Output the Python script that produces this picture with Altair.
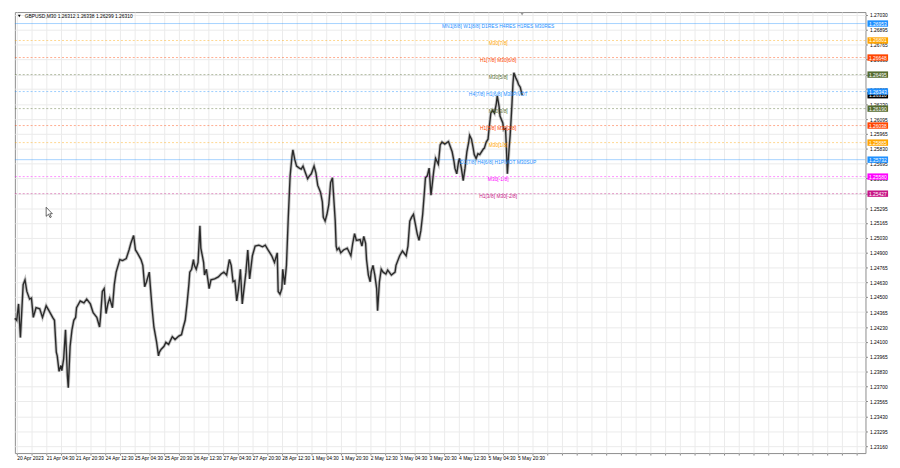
import altair as alt
import pandas as pd

W, H = 866, 449
FONT = "Liberation Sans"

# ---- price path (M30 bar index, price) ----
bars = [0, 2, 4, 6, 9, 11, 13, 16, 18, 20,
        23, 27, 30, 34, 37, 41, 43, 45, 46, 48,
        50, 51, 53, 55, 57, 58, 60, 62, 64, 66,
        67, 71, 75, 78, 82, 85, 89, 92, 93, 95,
        97, 99, 101, 103, 106, 108, 110, 114, 117, 121,
        124, 126, 129, 131, 133, 137, 139, 141, 143, 146,
        147, 149, 151, 154, 156, 157, 159, 162, 164, 167,
        171, 174, 178, 181, 183, 185, 187, 189, 190, 192,
        194, 195, 197, 199, 201, 202, 203, 205, 206, 208,
        210, 211, 213, 217, 221, 224, 227, 230, 233, 235,
        237, 239, 241, 243, 245, 247, 251, 253, 255, 258,
        261, 265, 269, 272, 275, 279, 282, 285, 286, 288,
        290, 291, 293, 295, 297, 299, 301, 302, 304, 306,
        309, 311, 313, 316, 318, 320, 322, 325, 327, 329,
        332, 334, 335, 337, 339, 341, 343, 345, 346, 348,
        349, 350, 352, 354, 357, 361, 365, 367, 369, 371,
        375, 377, 379, 381, 382, 384, 386, 387, 389, 391,
        393, 394, 396, 398, 400, 403, 405, 409, 413, 414,
        418, 421, 425, 427, 429, 431, 433, 435, 437, 439,
        441, 443, 445, 446, 448, 450, 452, 453, 455, 457,
        460, 462, 464, 467, 471, 475, 477, 478, 480, 482,
        483, 485, 487, 489, 491, 493, 494, 496, 498, 499,
        501, 503, 505, 509, 510, 512, 514, 515, 517, 519,
        521, 523, 524, 526, 527, 530, 531, 533, 534, 535,
        537, 538, 539, 540, 541, 542, 544, 546, 547, 549,
        551]

closes = [1.24309, 1.24291, 1.24438, 1.24136, 1.24611, 1.24654, 1.24550, 1.24481, 1.24490, 1.24317,
          1.24404, 1.24395, 1.24317, 1.24421, 1.24378, 1.24317, 1.24291, 1.24006, 1.23972, 1.23833,
          1.23885, 1.23840, 1.23946, 1.24205, 1.23799, 1.23686, 1.24058, 1.24205, 1.24291, 1.24317,
          1.24404, 1.24464, 1.24447, 1.24481, 1.24438, 1.24360, 1.24317, 1.24231, 1.24317, 1.24550,
          1.24576, 1.24352, 1.24438, 1.24490, 1.24404, 1.24611, 1.24723, 1.24836, 1.24827, 1.24845,
          1.24922, 1.24982, 1.25052, 1.24922, 1.24896, 1.24836, 1.24784, 1.24592, 1.24637, 1.24723,
          1.24611, 1.24404, 1.24231, 1.24093, 1.23972, 1.24006, 1.24032, 1.24058, 1.24093, 1.24075,
          1.24144, 1.24118, 1.24150, 1.24162, 1.24231, 1.24291, 1.24438, 1.24611, 1.24723, 1.24749,
          1.24836, 1.24784, 1.24749, 1.24810, 1.25138, 1.24939, 1.24896, 1.24810, 1.24697, 1.24749,
          1.24637, 1.24576, 1.24654, 1.24663, 1.24680, 1.24706, 1.24723, 1.24697, 1.24836, 1.24784,
          1.24637, 1.24645, 1.24464, 1.24576, 1.24749, 1.24438, 1.24723, 1.24922, 1.24663, 1.24870,
          1.24957, 1.24965, 1.24950, 1.24965, 1.24922, 1.24870, 1.24810, 1.24896, 1.24550, 1.24525,
          1.24576, 1.24749, 1.24611, 1.24784, 1.25216, 1.25587, 1.25760, 1.25820, 1.25734, 1.25674,
          1.25656, 1.25648, 1.25674, 1.25605, 1.25561, 1.25587, 1.25605, 1.25674, 1.25613, 1.25501,
          1.25440, 1.25354, 1.25216, 1.25181, 1.25242, 1.25328, 1.25527, 1.25570, 1.25440, 1.25181,
          1.24957, 1.24922, 1.24939, 1.24896, 1.24922, 1.24939, 1.24870, 1.24982, 1.25069, 1.25008,
          1.25015, 1.24957, 1.25043, 1.24982, 1.24836, 1.24697, 1.24637, 1.24723, 1.24784, 1.24697,
          1.24576, 1.24378, 1.24637, 1.24749, 1.24723, 1.24706, 1.24741, 1.24697, 1.24723, 1.24784,
          1.24870, 1.24913, 1.24870, 1.24957, 1.25181, 1.25216, 1.25242, 1.25155, 1.25069, 1.25008,
          1.25095, 1.25242, 1.25458, 1.25570, 1.25587, 1.25656, 1.25414, 1.25484, 1.25631, 1.25743,
          1.25691, 1.25864, 1.25890, 1.25872, 1.25895, 1.25803, 1.25717, 1.25656, 1.25605, 1.25717,
          1.25743, 1.25656, 1.25544, 1.25656, 1.25803, 1.25890, 1.25950, 1.25916, 1.25829, 1.25777,
          1.25743, 1.25786, 1.25777, 1.25829, 1.25835, 1.25890, 1.25916, 1.26002, 1.26149, 1.26175,
          1.26149, 1.26235, 1.26304, 1.26209, 1.26123, 1.26062, 1.26002, 1.26010, 1.25829, 1.25605,
          1.25846, 1.25950, 1.26088, 1.26235, 1.26408, 1.26512, 1.26468, 1.26434, 1.26408, 1.26382,
          1.26310]

# ---- axes ----
y_ticks = [1.27030, 1.26895, 1.26765, 1.26630, 1.26495, 1.26365, 1.26230, 1.26095, 1.25965, 1.25830,
           1.25695, 1.25565, 1.25430, 1.25295, 1.25165, 1.25030, 1.24900, 1.24765, 1.24630, 1.24500,
           1.24365, 1.24230, 1.24100, 1.23965, 1.23830, 1.23700, 1.23565, 1.23430, 1.23295, 1.23160]

date_labels = ["20 Apr 2023", "21 Apr 04:30", "21 Apr 20:30", "24 Apr 12:30", "25 Apr 04:30",
               "25 Apr 20:30", "26 Apr 12:30", "27 Apr 04:30", "27 Apr 20:30", "28 Apr 12:30",
               "1 May 04:30", "1 May 20:30", "2 May 12:30", "3 May 04:30", "3 May 20:30",
               "4 May 12:30", "5 May 04:30", "5 May 20:30"]

# ---- Murrey math levels ----
level_prices = [1.26953, 1.26801, 1.26648, 1.26495, 1.26343, 1.26190, 1.26038, 1.25885, 1.25732, 1.25580, 1.25427]
level_texts = ["MN1[8/8] W1[8/8] D1RES H4RES H1RES M30RES", "M30[7/8]", "H1[7/8] M30[6/8]", "M30[5/8]",
               "H4[7/8] H1[6/8] M30PIVOT", "M30[3/8]", "H1[5/8] M30[2/8]", "M30[1/8]",
               "D1[7/8] H4[6/8] H1PIVOT M30SUP", "M30[-1/8]", "H1[3/8] M30[-2/8]"]
level_colors = ["#1E90FF", "#FFA500", "#FF4500", "#556B2F", "#1E90FF", "#556B2F", "#FF4500", "#FFA500",
                "#1E90FF", "#FF00FF", "#C71585"]
level_solid = [True, False, False, False, False, False, False, False, True, False, False]

bid_price = 1.26310
last_bar = 551
header = "GBPUSD,M30  1.26312 1.26338 1.26299 1.26310"

n = min(len(bars), len(closes))
price_df = pd.DataFrame({"bar": bars[:n], "price": closes[:n]})
lev_df = pd.DataFrame({"price": level_prices, "text": level_texts, "color": level_colors,
                       "solid": level_solid, "label": [f"{p:.5f}" for p in level_prices]})
bid_df = pd.DataFrame({"price": [bid_price], "color": ["#000000"], "label": [f"{bid_price:.5f}"]})

x_scale = alt.Scale(domain=[0, 924], nice=False, zero=False)
y_scale = alt.Scale(domain=[1.2310, 1.27056], nice=False, zero=False)

label_js = "[" + ",".join(f"'{d}'" for d in date_labels) + "]"
x_axis = alt.Axis(values=list(range(2, 924, 16)), tickCount=200,
                  labelExpr=f"((datum.value - 2) % 32 == 0 && datum.value <= 546) ? {label_js}[(datum.value - 2) / 32] : ''",
                  labelAlign="left", labelFontSize=5, labelFont=FONT, labelColor="#000000",
                  tickSize=2, tickColor="#888888", labelPadding=1,
                  grid=True, gridColor="#ebebeb", domain=False, title=None,
                  labelOverlap=False, labelFlush=False, labelBound=False)
y_axis = alt.Axis(orient="right", values=y_ticks, tickCount=200, format=".5f", labelFontSize=5, labelFont=FONT,
                  labelColor="#000000", tickSize=2, tickColor="#888888", labelPadding=2,
                  grid=True, gridColor="#ebebeb", domain=False, title=None,
                  labelOverlap=False, labelFlush=False, labelBound=False)

line_bg = alt.Chart(price_df).mark_line(color="#8a8a8a", strokeWidth=3.2, opacity=0.5).encode(
    x=alt.X("bar:Q", scale=x_scale, axis=x_axis),
    y=alt.Y("price:Q", scale=y_scale, axis=y_axis))
line_fg = alt.Chart(price_df).mark_line(color="#2a2a2a", strokeWidth=1.4).encode(
    x="bar:Q", y="price:Q")

lev_solid = alt.Chart(lev_df).transform_filter("datum.solid").mark_rule(strokeWidth=1, opacity=0.4).encode(
    y="price:Q", color=alt.Color("color:N", scale=None))
lev_dash = alt.Chart(lev_df).transform_filter("!datum.solid").mark_rule(
    strokeWidth=1, opacity=0.45, strokeDash=[2, 2]).encode(
    y="price:Q", color=alt.Color("color:N", scale=None))
lev_text = alt.Chart(lev_df).mark_text(fontSize=5, font=FONT, baseline="top", dy=0.5, align="center").encode(
    x=alt.datum(525), y="price:Q", text="text:N", color=alt.Color("color:N", scale=None))

bid_box = alt.Chart(bid_df).mark_rule(strokeWidth=6.5).encode(
    x=alt.value(W + 2), x2=alt.value(W + 23), y="price:Q", color=alt.Color("color:N", scale=None))
bid_txt = alt.Chart(bid_df).mark_text(fontSize=5, font=FONT, color="white", align="center", baseline="middle").encode(
    x=alt.value(W + 12.5), y="price:Q", text="label:N")
lev_box = alt.Chart(lev_df).mark_rule(strokeWidth=6.5).encode(
    x=alt.value(W + 2), x2=alt.value(W + 23), y="price:Q", color=alt.Color("color:N", scale=None))
lev_box_txt = alt.Chart(lev_df).mark_text(fontSize=5, font=FONT, color="white", align="center", baseline="middle").encode(
    x=alt.value(W + 12.5), y="price:Q", text="label:N")

hdr = alt.Chart(pd.DataFrame({"t": [header]})).mark_text(
    align="left", baseline="middle", fontSize=5, font=FONT, color="#000000").encode(
    x=alt.value(10), y=alt.value(4), text="t:N")
tri = alt.Chart(pd.DataFrame({"t": [header]})).mark_point(
    shape="triangle-down", filled=True, size=8, color="#000000", opacity=1).encode(
    x=alt.value(4.5), y=alt.value(4))

# chart-shift marker at the top and the mouse pointer
shift_mark = alt.Chart(pd.DataFrame({"b": [last_bar]})).mark_point(
    shape="triangle-down", filled=True, size=14, color="#9a9a9a", opacity=1).encode(
    x=alt.X("b:Q"), y=alt.value(2))
cursor = alt.Chart(pd.DataFrame({"t": ["cursor"]})).mark_point(
    shape="M-0.6,-1L-0.6,0.75L-0.15,0.35L0.15,1L0.4,0.88L0.1,0.25L0.6,0.25Z",
    filled=True, size=110, fill="white", stroke="#000000", strokeWidth=0.6, opacity=1).encode(
    x=alt.value(35), y=alt.value(204))

chart = alt.layer(
    line_bg, lev_solid, lev_dash, line_fg, lev_text,
    bid_box, bid_txt, lev_box, lev_box_txt, hdr, tri, shift_mark, cursor
).properties(width=W, height=H, padding=0, background="white").configure_view(
    stroke="#8c8c8c", strokeWidth=1)

chart.save("out.html", embed_options={"renderer": "svg", "actions": False})
